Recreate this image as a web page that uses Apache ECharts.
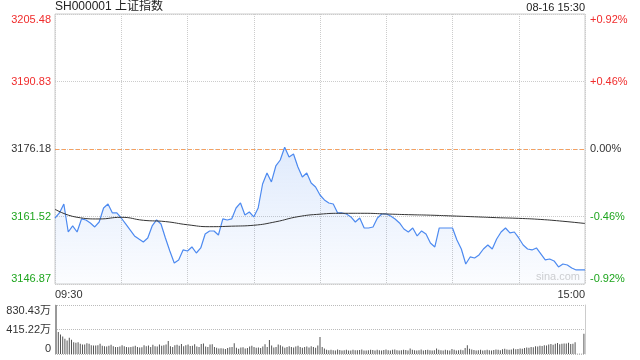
<!DOCTYPE html>
<html>
<head>
<meta charset="utf-8">
<script src="https://cdn.jsdelivr.net/npm/echarts@6/dist/echarts.min.js"></script>
<style>
  html, body { margin: 0; padding: 0; background: #fff; }
  #chart { width: 640px; height: 360px; }
</style>
</head>
<body>
<div id="chart"></div>
<script>
// 上证指数 分时
const preClose = 3176.18
const priceTicks = ['3146.87', '3161.52', '3176.18', '3190.83', '3205.48']
const pctTicks = ['-0.92%', '-0.46%', '0.00%', '+0.46%', '+0.92%']
const volTicks = ['0', '415.22万', '830.43万']

// price every 2 minutes
const prices = [
  3161.20, 3162.29, 3164.24, 3158.16, 3159.47, 3158.16, 3160.99, 3160.77, 3160.12, 3159.25,
  3160.33, 3163.37, 3164.24, 3162.29, 3162.29, 3161.20, 3159.90, 3158.60, 3157.30, 3156.64,
  3155.99, 3156.86, 3159.47, 3160.77, 3159.90, 3156.86, 3154.04, 3151.43, 3152.09, 3154.26,
  3154.04, 3154.91, 3153.60, 3154.69, 3157.73, 3158.38, 3158.38, 3157.51, 3160.99, 3160.77,
  3160.99, 3163.37, 3164.46, 3161.85, 3162.50, 3161.42, 3163.37, 3168.58, 3170.97, 3169.02,
  3172.49, 3173.79, 3176.55, 3174.44, 3175.09, 3172.27, 3170.10, 3170.97, 3168.80, 3167.93,
  3166.19, 3165.11, 3164.46, 3164.24, 3162.29, 3162.29, 3162.07, 3161.42, 3160.33, 3161.20,
  3159.03, 3159.03, 3159.25, 3161.20, 3162.07, 3162.07, 3161.64, 3160.99, 3160.12, 3158.81,
  3158.16, 3159.03, 3157.30, 3158.38, 3157.73, 3155.78, 3154.91, 3159.03, 3159.03, 3159.03,
  3159.03, 3156.43, 3154.47, 3151.22, 3152.74, 3152.52, 3153.17, 3154.47, 3155.34, 3154.47,
  3156.64, 3158.16, 3159.03, 3157.95, 3158.16, 3156.86, 3155.34, 3154.47, 3154.26, 3154.69,
  3153.39, 3152.09, 3152.30, 3151.87, 3150.57, 3151.22, 3151.00, 3150.35, 3149.92, 3149.92,
  3149.92
]

// average price every 10 minutes
const avgPrices = [
  3163.09, 3161.35, 3160.99, 3161.35, 3160.70, 3160.42, 3159.73, 3159.31, 3159.42, 3159.62,
  3160.38, 3161.48, 3162.03, 3162.22, 3162.22, 3162.07, 3161.92, 3161.81, 3161.64, 3161.46,
  3161.27, 3161.12, 3160.88, 3160.49, 3160.01
]

// volume per minute (万)
const volumes = [
  830, 372, 332, 298, 258, 229, 275, 240, 200, 189,
  200, 172, 160, 160, 183, 172, 150, 145, 143, 150,
  172, 138, 132, 126, 140, 155, 132, 120, 118, 126,
  150, 132, 120, 115, 118, 126, 138, 120, 112, 115,
  150, 132, 145, 120, 158, 132, 125, 160, 138, 150,
  160, 221, 132, 118, 150, 155, 140, 170, 132, 150,
  162, 135, 138, 165, 125, 120, 170, 178, 125, 118,
  160, 165, 120, 108, 95, 98, 92, 85, 100, 115,
  118, 182, 105, 90, 110, 115, 92, 100, 125, 140,
  118, 105, 110, 100, 125, 165, 120, 238, 145, 110,
  118, 160, 150, 125, 105, 120, 130, 118, 112, 125,
  140, 120, 108, 118, 125, 112, 130, 120, 105, 145,
  288,
  120, 95, 72, 65, 70, 62, 58, 75, 68, 60,
  65, 72, 60, 58, 70, 65, 62, 68, 75, 60,
  58, 62, 70, 66, 60, 72, 64, 58, 68, 75,
  62, 60, 70, 78, 65, 58, 62, 72, 68, 60,
  95, 70, 62, 58, 65, 75, 60, 68, 72, 65,
  58, 62, 95, 70, 65, 60, 70, 62, 58, 85,
  72, 60, 65, 70, 62, 100, 150, 90, 75, 68,
  60, 62, 70, 58, 65, 72, 62, 60, 68, 75,
  70, 65, 82, 88, 75, 70, 78, 92, 80, 85,
  95, 88, 100, 110, 105, 120, 115, 130, 125, 140,
  135, 150, 145, 160, 170, 155, 175, 185, 165, 175,
  180, 178, 190, 170, 175, 200, 6, 4, 5, 344
]

const fmtTime = (m) => {
  let t = m <= 120 ? 9 * 60 + 30 + m : 13 * 60 + (m - 120)
  let h = Math.floor(t / 60), mm = t % 60
  return String(h).padStart(2, '0') + ':' + String(mm).padStart(2, '0')
}
const priceTimes = prices.map((v, i) => fmtTime(i * 2))
const avgTimes = avgPrices.map((v, i) => fmtTime(i * 10))
const volTimes = volumes.map((v, i) => fmtTime(i))

const font = 'Arial, "Liberation Sans", "Noto Sans CJK SC", sans-serif'
const red = '#f02c2c'
const green = '#1ea51e'
const yMin = 3146.87, yMax = 3205.48
const labelColor = (v, i) => (i < 2 ? green : i > 2 ? red : '#333')

const chart = echarts.init(document.getElementById('chart'))
const option = {
  animation: false,
  textStyle: { fontFamily: font },
  graphic: [
    { type: 'text', left: 55, top: 1, style: { text: 'SH000001 上证指数', font: '12px ' + font, fill: '#222' } },
    { type: 'text', right: 55, top: 2, style: { text: '08-16 15:30', font: '11px ' + font, fill: '#222' } },
    { type: 'text', right: 60, top: 271, style: { text: 'sina.com', font: '11px ' + font, fill: '#d0d0d0' } }
  ],
  grid: [
    { left: 55, right: 55, top: 14, height: 270, show: true, borderColor: '#ccc', borderWidth: 1 },
    { left: 55, right: 55, top: 305, height: 49 }
  ],
  xAxis: [
    {
      type: 'category', gridIndex: 0, data: priceTimes, boundaryGap: false,
      axisLine: { show: false }, axisTick: { show: false },
      axisLabel: {
        interval: (i) => i === 0 || i === prices.length - 1,
        alignMinLabel: 'left', alignMaxLabel: 'right',
        color: '#333', fontSize: 11, margin: 5
      },
      splitLine: { show: true, interval: 14, lineStyle: { color: '#ccc', type: 'dotted' } }
    },
    {
      type: 'category', gridIndex: 0, data: avgTimes, boundaryGap: false, show: false
    },
    {
      type: 'category', gridIndex: 1, data: volTimes, boundaryGap: true,
      axisLine: { show: false }, axisTick: { show: false }, axisLabel: { show: false }
    }
  ],
  yAxis: [
    {
      type: 'value', gridIndex: 0, min: yMin, max: yMax, interval: (yMax - yMin) / 4,
      axisLine: { show: false }, axisTick: { show: false },
      axisLabel: {
        formatter: (v, i) => priceTicks[i], color: labelColor, fontSize: 11, margin: 4,
        verticalAlignMinLabel: 'bottom', verticalAlignMaxLabel: 'top'
      },
      splitLine: { show: true, lineStyle: { color: '#ccc', type: 'dotted' } }
    },
    {
      type: 'value', gridIndex: 0, position: 'right', min: yMin, max: yMax, interval: (yMax - yMin) / 4,
      axisLine: { show: false }, axisTick: { show: false },
      axisLabel: {
        formatter: (v, i) => pctTicks[i], color: labelColor, fontSize: 11, margin: 5,
        verticalAlignMinLabel: 'bottom', verticalAlignMaxLabel: 'top'
      },
      splitLine: { show: false }
    },
    {
      type: 'value', gridIndex: 1, min: 0, max: 830.43, interval: 415.215,
      axisLine: { show: true, lineStyle: { color: '#ccc' } }, axisTick: { show: false },
      axisLabel: {
        formatter: (v, i) => volTicks[i], color: '#333', fontSize: 11, margin: 4,
        verticalAlignMinLabel: 'bottom', verticalAlignMaxLabel: 'top'
      },
      splitLine: { show: true, lineStyle: { color: '#bbb', type: 'dotted' } }
    },
    {
      type: 'value', gridIndex: 1, position: 'right', min: 0, max: 830.43,
      axisLine: { show: true, lineStyle: { color: '#ccc' } }, axisTick: { show: false },
      axisLabel: { show: false }, splitLine: { show: false }
    }
  ],
  series: [
    {
      name: '价格', type: 'line', xAxisIndex: 0, yAxisIndex: 0, data: prices,
      symbol: 'none', lineStyle: { color: '#4d8af0', width: 1.2 },
      areaStyle: {
        origin: 'start',
        color: new echarts.graphic.LinearGradient(0, 0, 0, 1, [
          { offset: 0, color: 'rgba(77,138,240,0.25)' },
          { offset: 1, color: 'rgba(77,138,240,0.03)' }
        ])
      }
    },
    {
      name: '均价', type: 'line', xAxisIndex: 1, yAxisIndex: 0, data: avgPrices,
      symbol: 'none', smooth: true, lineStyle: { color: '#333', width: 1 }
    },
    {
      name: '成交量', type: 'bar', xAxisIndex: 2, yAxisIndex: 2, data: volumes,
      barWidth: 1, itemStyle: { color: '#555' }
    }
  ]
}
chart.setOption(option)

// 昨收参考线, placed through the axis scale
const y0 = Math.round(chart.convertToPixel({ yAxisIndex: 0 }, preClose)) + 0.5
const gr = chart.getModel().getComponent('grid', 0).coordinateSystem.getRect()
chart.setOption({
  graphic: [
    { type: 'text', left: 55, top: 1, style: { text: 'SH000001 上证指数', font: '12px ' + font, fill: '#222' } },
    { type: 'text', right: 55, top: 2, style: { text: '08-16 15:30', font: '11px ' + font, fill: '#222' } },
    { type: 'text', right: 60, top: 271, style: { text: 'sina.com', font: '11px ' + font, fill: '#d0d0d0' } },
    {
      type: 'line', z: 10, silent: true,
      shape: { x1: gr.x, y1: y0, x2: gr.x + gr.width, y2: y0 },
      style: { stroke: '#f5a060', lineWidth: 1, lineDash: [4, 3] }
    }
  ]
}, { replaceMerge: ['graphic'] })
</script>
</body>
</html>
